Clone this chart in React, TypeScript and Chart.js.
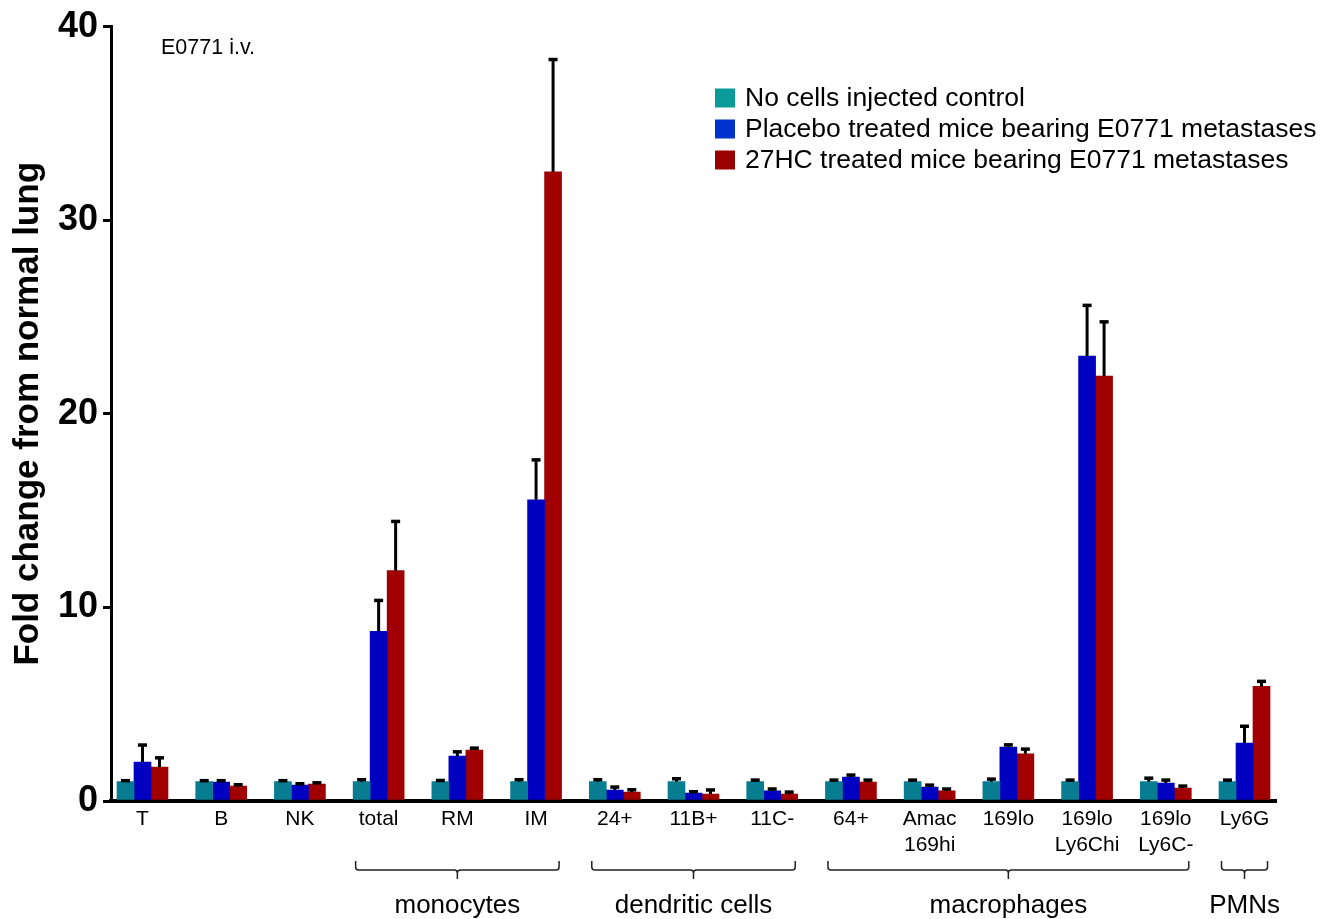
import React, { useEffect, useRef } from 'react';
import { Chart, registerables } from 'chart.js';

Chart.register(...registerables);

const categories = ['T', 'B', 'NK', 'total', 'RM', 'IM', '24+', '11B+', '11C-', '64+', 'Amac\n169hi', '169lo', '169lo\nLy6Chi', '169lo\nLy6C-', 'Ly6G'];
const seriesNames = ['No cells injected control', 'Placebo treated mice bearing E0771 metastases', '27HC treated mice bearing E0771 metastases'];

const controlValues = [1, 1, 1, 1, 1, 1, 1, 1, 1, 1, 1, 1, 1, 1, 1];
const controlErrors = [0.05, 0.05, 0.05, 0.1, 0.06, 0.1, 0.1, 0.15, 0.08, 0.08, 0.08, 0.13, 0.08, 0.18, 0.08];
const placeboValues = [2.01, 0.98, 0.82, 8.76, 2.32, 15.56, 0.57, 0.41, 0.52, 1.24, 0.72, 2.78, 22.98, 0.93, 2.99];
const placeboErrors = [0.88, 0.07, 0.07, 1.6, 0.22, 2.06, 0.15, 0.07, 0.1, 0.1, 0.1, 0.12, 2.62, 0.15, 0.87];
const hcValues = [1.75, 0.77, 0.88, 11.9, 2.63, 32.5, 0.46, 0.36, 0.36, 0.98, 0.52, 2.44, 21.95, 0.67, 5.92];
const hcErrors = [0.48, 0.07, 0.06, 2.54, 0.1, 5.8, 0.12, 0.21, 0.1, 0.1, 0.1, 0.24, 2.8, 0.1, 0.26];

const yMin = 0;
const yMax = 40;
const yStep = 10;
const yTitle = 'Fold change from normal lung';
const annotationText = 'E0771 i.v.';

const groupLabels = ['monocytes', 'dendritic cells', 'macrophages', 'PMNs'];
const groupStart = [3, 6, 9, 14];
const groupEnd = [5, 8, 13, 14];

const barColors = ['#087c91', '#0000c0', '#a00000'];
const legendColors = ['#0a9a98', '#0033cc', '#990000'];
const FONT = '"Liberation Sans", Arial, Helvetica, sans-serif';

const errorBarPlugin = {
  id: 'errorBars',
  afterDatasetsDraw(chart: any) {
    const ctx = chart.ctx;
    const yScale = chart.scales.y;
    ctx.save();
    ctx.strokeStyle = '#000';
    chart.data.datasets.forEach((ds: any, di: number) => {
      const meta = chart.getDatasetMeta(di);
      meta.data.forEach((bar: any, i: number) => {
        const v = ds.data[i].y;
        const e = ds.errors[i];
        const y0 = yScale.getPixelForValue(v);
        const y1 = yScale.getPixelForValue(v + e);
        ctx.lineWidth = 3;
        ctx.beginPath();
        ctx.moveTo(bar.x, y0);
        ctx.lineTo(bar.x, y1);
        ctx.stroke();
        ctx.lineWidth = 3.5;
        ctx.beginPath();
        ctx.moveTo(bar.x - 4.5, y1);
        ctx.lineTo(bar.x + 4.5, y1);
        ctx.stroke();
      });
    });
    ctx.restore();
  },
};

const decorPlugin = {
  id: 'decor',
  afterDraw(chart: any) {
    const ctx = chart.ctx;
    const xScale = chart.scales.x;
    ctx.save();
    // legend
    ctx.font = `26.5px ${FONT}`;
    ctx.textBaseline = 'middle';
    ctx.textAlign = 'left';
    chart.data.datasets.forEach((ds: any, i: number) => {
      const cy = 97.5 + i * 31;
      ctx.fillStyle = legendColors[i];
      ctx.fillRect(715, cy - 9, 20, 19);
      ctx.fillStyle = '#000';
      ctx.fillText(ds.label, 745, cy + 1);
    });
    // annotation
    ctx.font = `21.5px ${FONT}`;
    ctx.fillText(annotationText, 161, 48);
    // group brackets
    ctx.strokeStyle = '#222';
    ctx.lineWidth = 1.5;
    groupLabels.forEach((label, g) => {
      const x1 = xScale.getPixelForValue(groupStart[g]) - 23;
      const x2 = xScale.getPixelForValue(groupEnd[g]) + 23;
      const cx = (x1 + x2) / 2;
      const yl = 870;
      ctx.beginPath();
      ctx.moveTo(x1, 861);
      ctx.lineTo(x1, 867);
      ctx.quadraticCurveTo(x1, yl, x1 + 3, yl);
      ctx.lineTo(cx - 3, yl);
      ctx.quadraticCurveTo(cx, yl, cx, yl + 3);
      ctx.lineTo(cx, 879);
      ctx.moveTo(cx, yl + 3);
      ctx.quadraticCurveTo(cx, yl, cx + 3, yl);
      ctx.lineTo(x2 - 3, yl);
      ctx.quadraticCurveTo(x2, yl, x2, 867);
      ctx.lineTo(x2, 861);
      ctx.stroke();
      ctx.font = `26px ${FONT}`;
      ctx.textAlign = 'center';
      ctx.fillStyle = '#000';
      ctx.fillText(label, cx, 906);
    });
    ctx.restore();
  },
};

export default function App() {
  const ref = useRef<HTMLCanvasElement>(null);
  useEffect(() => {
    document.body.style.margin = '0';
    Chart.defaults.font.family = FONT;
    const canvas = ref.current!;
    const mk = (vals: number[]) => vals.map((v, i) => ({ x: i, y: v }));
    const chart = new Chart(canvas, {
      type: 'bar',
      data: {
        datasets: [
          { label: seriesNames[0], data: mk(controlValues), backgroundColor: barColors[0], errors: controlErrors } as any,
          { label: seriesNames[1], data: mk(placeboValues), backgroundColor: barColors[1], errors: placeboErrors } as any,
          { label: seriesNames[2], data: mk(hcValues), backgroundColor: barColors[2], errors: hcErrors } as any,
        ],
      },
      options: {
        responsive: false,
        animation: false,
        layout: { padding: { top: 25, right: 55, bottom: 0, left: 0 } },
        plugins: { legend: { display: false }, tooltip: { enabled: false } },
        datasets: { bar: { barThickness: 17, grouped: true } },
        scales: {
          x: {
            type: 'linear',
            min: -0.4,
            max: categories.length - 1 + 0.4,
            offset: false,
            z: 1,
            grid: { display: false, drawTicks: false },
            border: { display: true, width: 4, color: '#000' },
            afterBuildTicks: (axis: any) => {
              axis.ticks = categories.map((_, i) => ({ value: i }));
            },
            afterFit: (axis: any) => {
              axis.height = 118;
            },
            ticks: {
              autoSkip: false,
              maxRotation: 0,
              minRotation: 0,
              padding: 6,
              color: '#000',
              font: { size: 21, family: FONT },
              callback: (_v: any, index: number) => categories[index].split('\n'),
            },
          },
          y: {
            min: yMin,
            max: yMax,
            z: 1,
            afterFit: (axis: any) => {
              axis.width = 111;
            },
            grid: { display: true, drawOnChartArea: false, drawTicks: true, tickLength: 8, lineWidth: 3, color: '#000' },
            border: { display: true, width: 3, color: '#000' },
            ticks: { stepSize: yStep, padding: 5, color: '#000', font: { size: 36, weight: 'bold', family: FONT } },
            title: {
              display: true,
              text: yTitle,
              color: '#000',
              font: { size: 35, weight: 'bold', family: FONT },
              padding: { top: 7, bottom: 0 },
            },
          },
        } as any,
      },
      plugins: [errorBarPlugin, decorPlugin],
    } as any);
    return () => chart.destroy();
  }, []);
  return <canvas ref={ref} width={1331} height={919} style={{ display: 'block' }} />;
}
